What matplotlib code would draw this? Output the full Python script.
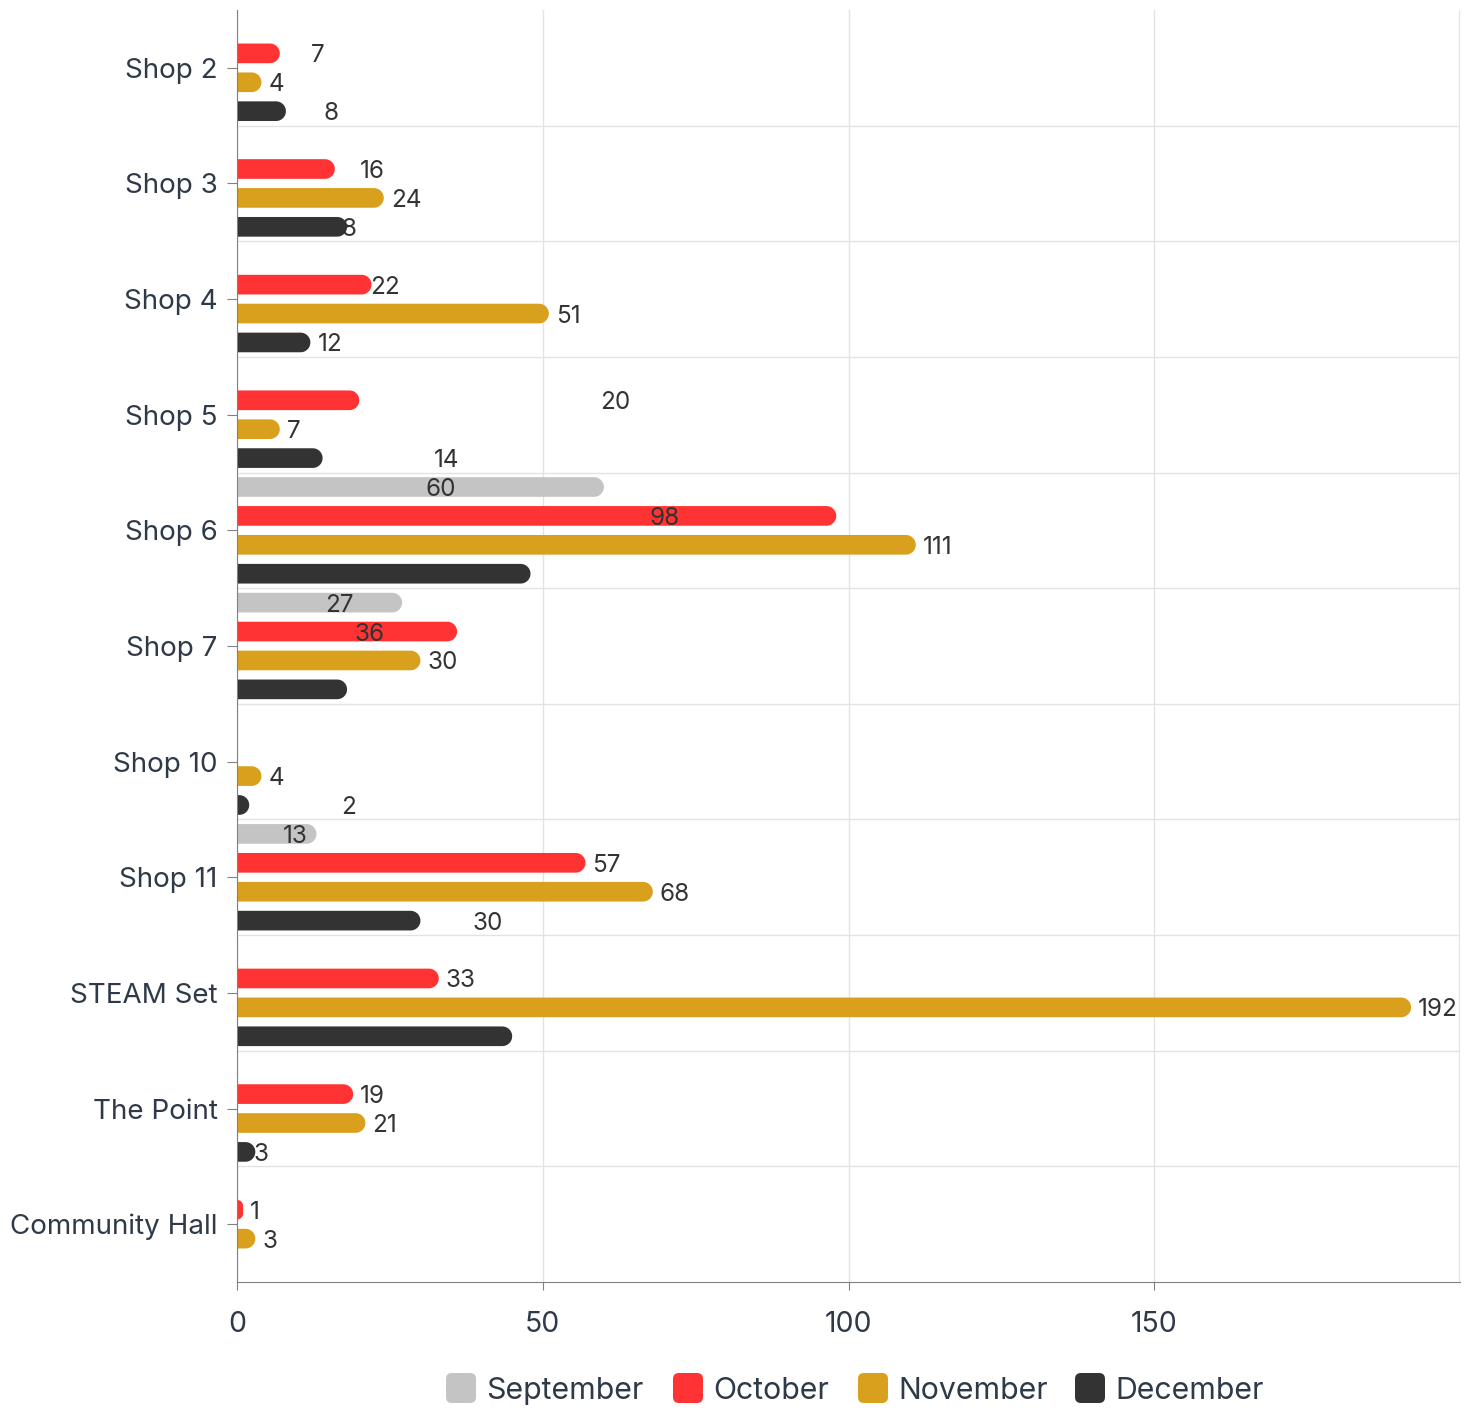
import numpy as np
import matplotlib.pyplot as plt
from matplotlib.patches import Polygon, FancyBboxPatch

plt.rcParams['font.family'] = ['Inter', 'DejaVu Sans']

# ---------- data ----------
categories = ["Shop 2", "Shop 3", "Shop 4", "Shop 5", "Shop 6", "Shop 7",
              "Shop 10", "Shop 11", "STEAM Set", "The Point", "Community Hall"]
series_names = ["September", "October", "November", "December"]
series_colors = ["#c4c4c4", "#ff3333", "#d8a01c", "#333333"]

# None = no value for that month
september = [None, None, None, None, 60, 27, None, 13, None, None, None]
october = [7, 16, 22, 20, 98, 36, None, 57, 33, 19, 1]
november = [4, 24, 51, 7, 111, 30, 4, 68, 192, 21, 3]
december = [8, 18, 12, 14, 48, 18, 2, 30, 45, 3, None]
values = [september, october, november, december]

x_ticks = [0, 50, 100, 150]

# value labels that sit away from the bar end: (category, series) -> centre x
label_x = {
    (0, 1): 13.2, (0, 3): 15.4,
    (1, 1): 22.1, (1, 3): 17.7,
    (3, 1): 61.8, (3, 3): 34.2,
    (4, 0): 33.4, (4, 1): 70.0,
    (5, 0): 16.8, (5, 1): 21.7,
    (6, 3): 18.2,
    (7, 0): 9.6, (7, 3): 41.0,
    (9, 3): 3.9,
}
label_left_flush = {(2, 1): 21.8}        # label starts right at the bar end
label_hidden = {(4, 3), (5, 3), (8, 3)}  # bars drawn without a label
label_behind = {(1, 3)}                  # label partly covered by its bar

# ---------- figure ----------
W, H, DPI = 1475, 1410, 100
fig = plt.figure(figsize=(W / DPI, H / DPI), dpi=DPI)
ax = fig.add_axes([237 / W, 1 - 1282 / H, (1460 - 237) / W, (1282 - 10) / H])

XMAX = 200
n = len(categories)
ax.set_xlim(0, XMAX)
ax.set_ylim(n - 0.5, -0.5)

ax_w_px = (1460 - 237)
ax_h_px = (1282 - 10)
ppx = ax_w_px / XMAX
ppy = ax_h_px / n

slot = 0.25
bar_h = 0.17


def rounded_bar(v, yc, color, z=3):
    # square left end, round right end (radius limited by bar length)
    w_px = v * ppx
    r_px = min(bar_h * ppy / 2, w_px)
    rx, ry = r_px / ppx, r_px / ppy
    y0, y1 = yc - bar_h / 2, yc + bar_h / 2
    t1 = np.linspace(-np.pi / 2, 0, 12)
    t2 = np.linspace(0, np.pi / 2, 12)
    pts = [(0, y0)]
    pts += [(v - rx + rx * np.cos(t), y0 + ry + ry * np.sin(t)) for t in t1]
    pts += [(v - rx + rx * np.cos(t), y1 - ry + ry * np.sin(t)) for t in t2]
    pts += [(0, y1)]
    ax.add_patch(Polygon(pts, closed=True, facecolor=color, edgecolor='none',
                         zorder=z))


for s, (vals, col) in enumerate(zip(values, series_colors)):
    for i, v in enumerate(vals):
        if v is None:
            continue
        yc = i + (s - 1.5) * slot
        rounded_bar(v, yc, col)
        key = (i, s)
        if key in label_hidden:
            continue
        z = 2.5 if key in label_behind else 4
        kw = dict(fontsize=17.5, color='#333333', va='center_baseline', zorder=z)
        if key in label_x:
            ax.text(label_x[key], yc, str(v), ha='center', **kw)
        elif key in label_left_flush:
            ax.text(label_left_flush[key], yc, str(v), ha='left', **kw)
        else:
            ax.annotate(str(v), (v, yc), xytext=(5, 0),
                        textcoords='offset points', ha='left', **kw)

# ---------- axes styling ----------
ax.set_yticks(range(n))
ax.set_yticklabels(categories)
ax.set_yticks(np.arange(n - 1) + 0.5, minor=True)
ax.set_xticks(x_ticks)
ax.set_xticklabels([str(t) for t in x_ticks])

ax.grid(axis='x', which='major', color='#e3e3e3', lw=1, zorder=0)
ax.grid(axis='y', which='minor', color='#e3e3e3', lw=1, zorder=0)
ax.axvline(XMAX, color='#e3e3e3', lw=1.5, zorder=0)
ax.set_axisbelow(True)

for sp in ['top', 'right']:
    ax.spines[sp].set_visible(False)
ax.spines['left'].set_color('#808080')
ax.spines['bottom'].set_color('#808080')
ax.spines['left'].set_zorder(5)

ax.tick_params(axis='y', which='major', length=7, color='#808080',
               labelsize=20, labelcolor='#2e3a48', pad=7)
ax.tick_params(axis='y', which='minor', length=0)
ax.tick_params(axis='x', length=6, color='#808080',
               labelsize=20.5, labelcolor='#2e3a48', pad=15)

# ---------- legend ----------
legend_box_x = [446, 673, 858, 1075]
box = 30
ly = 1388
for name, col, bx in zip(series_names, series_colors, legend_box_x):
    fig.patches.append(FancyBboxPatch(
        (bx / W, 1 - (ly + box / 2) / H), box / W, box / H,
        boxstyle="round,pad=0,rounding_size=0.004", mutation_aspect=W / H,
        transform=fig.transFigure, facecolor=col, edgecolor='none'))
    fig.text((bx + box + 10) / W, 1 - (ly + 3) / H, name, fontsize=21.8,
             color='#2e3a48', va='center', ha='left')

fig.savefig("out.png", dpi=DPI)
